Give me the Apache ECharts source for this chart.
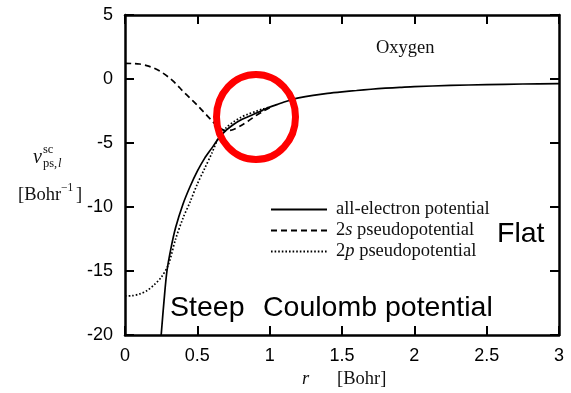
<!DOCTYPE html>
<html>
<head>
<meta charset="utf-8">
<script src="https://cdn.jsdelivr.net/npm/echarts@6/dist/echarts.min.js"></script>
<style>
html,body{margin:0;padding:0;background:#fff;}
#chart{width:571px;height:393px;}
</style>
</head>
<body>
<div id="chart"></div>
<script>
// ---- data ----
const xTicks = [0, 0.5, 1, 1.5, 2, 2.5, 3];
const yTicks = [-20, -15, -10, -5, 0, 5];

const seriesNames = ['all-electron potential', '2s pseudopotential', '2p pseudopotential'];

const rAE = [0.25, 0.27, 0.29, 0.32, 0.35, 0.4, 0.45, 0.5, 0.55, 0.6, 0.65, 0.7, 0.75, 0.8, 0.85, 0.9, 0.95, 1.0, 1.05, 1.1, 1.15, 1.2, 1.3, 1.4, 1.5, 1.6, 1.7, 1.8, 1.9, 2.0, 2.25, 2.5, 2.75, 3.0];
const vAE = [-20, -17.3, -15, -13.1, -11.6, -9.8, -8.4, -7.2, -6.2, -5.4, -4.6, -4.0, -3.55, -3.2, -2.95, -2.7, -2.45, -2.2, -2.0, -1.8, -1.62, -1.48, -1.28, -1.12, -1.0, -0.9, -0.8, -0.72, -0.66, -0.6, -0.5, -0.44, -0.39, -0.36];

const r2s = [0, 0.05, 0.1, 0.15, 0.2, 0.25, 0.3, 0.35, 0.4, 0.45, 0.5, 0.55, 0.6, 0.65, 0.7, 0.75, 0.8, 0.85, 0.9, 0.95, 1.0];
const v2s = [1.22, 1.21, 1.17, 1.05, 0.85, 0.55, 0.15, -0.35, -0.95, -1.5, -2.05, -2.65, -3.25, -3.8, -4.05, -3.95, -3.65, -3.3, -2.9, -2.55, -2.25];

const r2p = [0, 0.05, 0.1, 0.15, 0.2, 0.25, 0.3, 0.35, 0.4, 0.45, 0.5, 0.55, 0.6, 0.65, 0.7, 0.75, 0.8, 0.85, 0.9, 0.95, 1.0];
const v2p = [-16.95, -16.93, -16.8, -16.55, -16.1, -15.5, -14.5, -12.5, -10.9, -9.6, -8.2, -7.0, -5.8, -4.5, -3.8, -3.35, -3.0, -2.75, -2.55, -2.35, -2.2];

const zip = (xs, ys) => xs.map((x, i) => [x, ys[i]]);

const chart = echarts.init(document.getElementById('chart'), null, {renderer: 'canvas'});

const axisLineStyle = {color: '#000', width: 2.5};
const tickStyle = {color: '#000', width: 2};
const sans = '"Liberation Sans", Arial, sans-serif';
const serif = '"Liberation Serif", "Times New Roman", serif';

const option = {
  animation: false,
  backgroundColor: '#fff',
  grid: {left: 125, right: 12, top: 15, bottom: 58, containLabel: false},
  xAxis: [
    {type: 'value', position: 'bottom', min: 0, max: 3, interval: 0.5,
     axisLine: {show: true, onZero: false, lineStyle: axisLineStyle},
     axisTick: {show: true, inside: true, length: 9, lineStyle: tickStyle},
     splitLine: {show: false},
     axisLabel: {margin: 12, color: '#000', fontFamily: sans, fontSize: 18,
       formatter: v => String(v)}},
    {type: 'value', position: 'top', min: 0, max: 3, interval: 0.5,
     axisLine: {show: true, onZero: false, lineStyle: axisLineStyle},
     axisTick: {show: true, inside: true, length: 9, lineStyle: tickStyle},
     splitLine: {show: false}, axisLabel: {show: false}}
  ],
  yAxis: [
    {type: 'value', position: 'left', min: -20, max: 5, interval: 5,
     axisLine: {show: true, onZero: false, lineStyle: axisLineStyle},
     axisTick: {show: true, inside: true, length: 9, lineStyle: tickStyle},
     splitLine: {show: false},
     axisLabel: {margin: 12, color: '#000', fontFamily: sans, fontSize: 18}},
    {type: 'value', position: 'right', min: -20, max: 5, interval: 5,
     axisLine: {show: true, onZero: false, lineStyle: axisLineStyle},
     axisTick: {show: true, inside: true, length: 9, lineStyle: tickStyle},
     splitLine: {show: false}, axisLabel: {show: false}}
  ],
  legend: {
    orient: 'vertical', left: 270, top: 200, itemGap: 2, padding: 0,
    itemWidth: 56, itemHeight: 18,
    data: seriesNames,
    selectedMode: false,
    itemStyle: {opacity: 0},
    textStyle: {fontFamily: serif, fontSize: 18.5, color: '#111', padding: [0, 0, 0, 4],
      rich: {i: {fontFamily: serif, fontSize: 18.5, fontStyle: 'italic', color: '#111'}}},
    formatter: function (name) {
      if (name === seriesNames[1]) return '2{i|s} pseudopotential';
      if (name === seriesNames[2]) return '2{i|p} pseudopotential';
      return name;
    }
  },
  series: [
    {name: seriesNames[1], type: 'line', data: zip(r2s, v2s), smooth: 0.3,
     symbol: 'none', showSymbol: false, itemStyle: {color: '#000'},
     lineStyle: {color: '#000', width: 1.7, type: [6, 4]}},
    {name: seriesNames[2], type: 'line', data: zip(r2p, v2p), smooth: 0.3,
     symbol: 'none', showSymbol: false, itemStyle: {color: '#000'},
     lineStyle: {color: '#000', width: 1.7, type: [1.6, 2]}},
    {name: seriesNames[0], type: 'line', data: zip(rAE, vAE), smooth: 0.3,
     symbol: 'none', showSymbol: false, itemStyle: {color: '#000'},
     lineStyle: {color: '#000', width: 1.7, type: 'solid'}}
  ],
  graphic: [
    {type: 'text', x: 376, y: 48, style: {text: 'Oxygen', font: '18.5px ' + serif, fill: '#111', verticalAlign: 'middle'}},
    // y-axis title
    {type: 'text', x: 33, y: 158, style: {text: 'v', font: 'italic 20px ' + serif, fill: '#111', verticalAlign: 'middle'}},
    {type: 'text', x: 43, y: 150, style: {text: 'sc', font: '12.5px ' + serif, fill: '#111', verticalAlign: 'middle'}},
    {type: 'text', x: 43, y: 164, style: {text: 'ps,', font: '12.5px ' + serif, fill: '#111', verticalAlign: 'middle'}},
    {type: 'text', x: 58, y: 164, style: {text: 'l', font: 'italic 12.5px ' + serif, fill: '#111', verticalAlign: 'middle'}},
    {type: 'text', x: 18, y: 195, style: {text: '[Bohr', font: '18.5px ' + serif, fill: '#111', verticalAlign: 'middle'}},
    {type: 'text', x: 61, y: 188, style: {text: '\u22121', font: '11.5px ' + serif, fill: '#111', verticalAlign: 'middle'}},
    {type: 'text', x: 76, y: 195, style: {text: ']', font: '18.5px ' + serif, fill: '#111', verticalAlign: 'middle'}},
    // x-axis title
    {type: 'text', x: 302, y: 379, style: {text: 'r', font: 'italic 18.5px ' + serif, fill: '#111', verticalAlign: 'middle'}},
    {type: 'text', x: 337, y: 379, style: {text: '[Bohr]', font: '18.5px ' + serif, fill: '#111', verticalAlign: 'middle'}},
    // annotations
    {type: 'text', x: 170, y: 308, style: {text: 'Steep', font: '28.5px ' + sans, fill: '#000', verticalAlign: 'middle'}},
    {type: 'text', x: 263, y: 308, style: {text: 'Coulomb potential', font: '28.5px ' + sans, fill: '#000', verticalAlign: 'middle'}},
    {type: 'text', x: 497, y: 234, style: {text: 'Flat', font: '28.5px ' + sans, fill: '#000', verticalAlign: 'middle'}},
    {type: 'ellipse', shape: {cx: 256, cy: 117, rx: 39.5, ry: 42.5}, style: {fill: 'none', stroke: '#ff0000', lineWidth: 7}, z: 100}
  ]
};
chart.setOption(option);
</script>
</body>
</html>
